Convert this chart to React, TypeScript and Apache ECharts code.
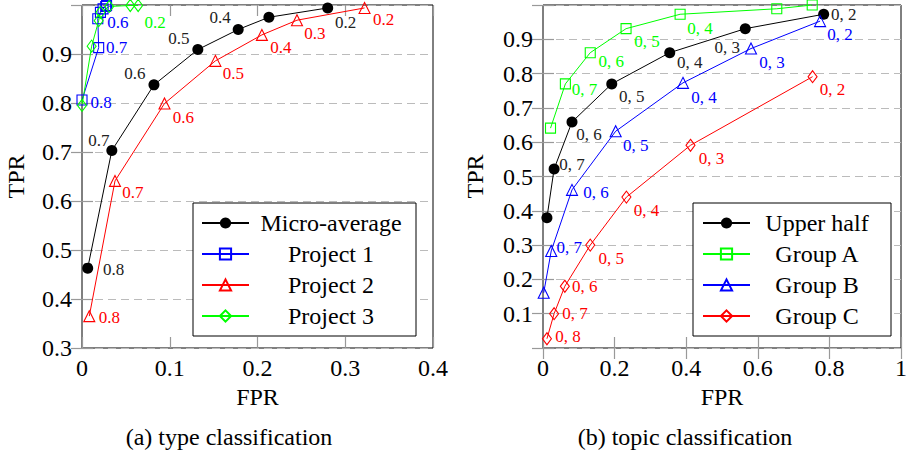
import React, { useEffect, useRef } from 'react';
import * as echarts from 'echarts';

// ---------- (a) type classification ----------
const microFpr = [0.0065, 0.034, 0.082, 0.132, 0.178, 0.213, 0.28];
const microTpr = [0.463, 0.703, 0.837, 0.909, 0.95, 0.975, 0.994];
const microLabels = ['0.8', '0.7', '0.6', '0.5', '0.4', '', '0.2'];

const p1Fpr = [0, 0.019, 0.018, 0.021, 0.024, 0.027, 0.028];
const p1Tpr = [0.806, 0.913, 0.972, 0.985, 0.992, 0.997, 0.999];
const p1Labels = ['0.8', '0.7', '0.6', '', '', '', ''];

const p2Fpr = [0.0083, 0.0376, 0.094, 0.152, 0.205, 0.245, 0.322];
const p2Tpr = [0.365, 0.641, 0.799, 0.886, 0.939, 0.969, 0.994];
const p2Labels = ['0.8', '0.7', '0.6', '0.5', '0.4', '0.3', '0.2'];

const p3Fpr = [0, 0.011, 0.019, 0.021, 0.031, 0.055, 0.064];
const p3Tpr = [0.795, 0.916, 0.968, 0.985, 0.997, 0.999, 0.999];
const p3Labels = ['', '', '', '', '', '', '0.2'];

const legendA = ['Micro-average', 'Project 1', 'Project 2', 'Project 3'];

// ---------- (b) topic classification ----------
const upperFpr = [0.011, 0.031, 0.081, 0.192, 0.354, 0.565, 0.784];
const upperTpr = [0.38, 0.522, 0.659, 0.77, 0.861, 0.931, 0.973];
const upperLabels = ['', '0, 7', '0, 6', '0, 5', '0, 4', '0, 3', '0, 2'];

const gaFpr = [0.021, 0.0625, 0.132, 0.232, 0.383, 0.653, 0.752];
const gaTpr = [0.641, 0.77, 0.861, 0.931, 0.973, 0.989, 1.0];
const gaLabels = ['', '0, 7', '0, 6', '0, 5', '0, 4', '', ''];

const gbFpr = [0.002, 0.023, 0.081, 0.203, 0.391, 0.581, 0.774];
const gbTpr = [0.161, 0.283, 0.461, 0.632, 0.773, 0.873, 0.953];
const gbLabels = ['', '0, 7', '0, 6', '0, 5', '0, 4', '0, 3', '0, 2'];

const gcFpr = [0.011, 0.031, 0.061, 0.132, 0.233, 0.412, 0.753];
const gcTpr = [0.027, 0.1, 0.18, 0.3, 0.44, 0.591, 0.791];
const gcLabels = ['0, 8', '0, 7', '0, 6', '0, 5', '0, 4', '0, 3', '0, 2'];

const legendB = ['Upper half', 'Group A', 'Group B', 'Group C'];

const captionA = '(a) type classification';
const captionB = '(b) topic classification';

// ---------- styling (label placement offsets, px) ----------
const microOff = [[26, 1], [-13, -10], [-19, -11], [-19, -11], [-18, -12], [0, 0], [18, 15]];
const p1Off = [[19, 2], [18, 0], [20, 4], [0, 0], [0, 0], [0, 0], [0, 0]];
const p2Off = [[20, 1], [18, 12], [19, 14], [18, 13], [19, 13], [18, 13], [19, 12]];
const p3Off = [[0, 0], [0, 0], [0, 0], [0, 0], [0, 0], [0, 0], [17, 17]];
const upperOff = [[0, 0], [18, -4], [17, 13], [20, 13], [20, 10], [-18, 19], [20, 0]];
const gaOff = [[0, 0], [19, 6], [21, 9], [21, 13], [20, 14], [0, 0], [0, 0]];
const gbOff = [[0, 0], [18, -3], [24, 3], [20, 14], [21, 15], [21, 14], [20, 13]];
const gcOff = [[21, -2], [21, 0], [20, 0], [21, 13], [20, 13], [21, 13], [20, 13]];

const FONT = "'Liberation Serif', 'Times New Roman', serif";
const BLACK = '#000000';
const BLUE = '#0000ff';
const RED = '#ff0000';
const GREEN = '#00ff00';

function buildData(xs: number[], ys: number[], labels: string[], offs: number[][], color: string) {
  return xs.map((x, i) => ({
    value: [x, ys[i]],
    label: {
      show: labels[i] !== '',
      formatter: labels[i],
      position: 'inside',
      offset: offs[i],
      color: color === BLACK ? '#222' : color,
      fontFamily: FONT,
      fontSize: 17,
    },
  }));
}

function makeSeries(
  name: string, xs: number[], ys: number[], labels: string[], offs: number[][],
  color: string, symbol: string, size: any, filled: boolean, axisIndex: number
) {
  return {
    name,
    type: 'line',
    xAxisIndex: axisIndex,
    yAxisIndex: axisIndex,
    clip: false,
    symbol,
    symbolSize: size,
    showAllSymbol: true,
    lineStyle: { color, width: 1 },
    itemStyle: filled
      ? { color, borderColor: color, borderWidth: 0 }
      : { color: 'rgba(255,255,255,0)', borderColor: color, borderWidth: 1.1 },
    emphasis: { disabled: true },
    data: buildData(xs, ys, labels, offs, color),
  };
}

function tickFmt(hideMin: boolean, hideMax: boolean, max: number, min: number) {
  return (v: number) => {
    if (hideMax && Math.abs(v - max) < 1e-6) return '';
    if (hideMin && Math.abs(v - min) < 1e-6) return '';
    return String(+v.toFixed(2));
  };
}

const tickStyle = { inside: true, length: 11, lineStyle: { color: '#999', width: 1.2 } };
const labelStyle = { fontFamily: FONT, fontSize: 24, color: '#000' };

function xAxes(grid: number, max: number, interval: number, nameGap: number) {
  return [
    {
      gridIndex: grid, type: 'value', min: 0, max, interval, position: 'bottom',
      name: 'FPR', nameLocation: 'middle', nameGap,
      nameTextStyle: { fontFamily: FONT, fontSize: 24, color: '#000' },
      axisLine: { show: false }, axisTick: tickStyle,
      axisLabel: { ...labelStyle, margin: 8, formatter: tickFmt(false, false, max, 0) },
      splitLine: { show: false },
    },
    {
      gridIndex: grid, type: 'value', min: 0, max, interval, position: 'top',
      axisLine: { show: false }, axisTick: tickStyle, axisLabel: { show: false },
      splitLine: { show: false },
    },
  ];
}

function yAxes(grid: number, min: number, hideMin: boolean, nameGap: number) {
  return [
    {
      gridIndex: grid, type: 'value', min, max: 1, interval: 0.1, position: 'left',
      name: 'TPR', nameLocation: 'middle', nameGap,
      nameTextStyle: { fontFamily: FONT, fontSize: 24, color: '#000' },
      axisLine: { show: false }, axisTick: tickStyle,
      axisLabel: { ...labelStyle, margin: 10, formatter: tickFmt(hideMin, true, 1, min) },
      splitLine: { show: true, lineStyle: { color: '#bbb', width: 1, type: [8, 5] } },
    },
    {
      gridIndex: grid, type: 'value', min, max: 1, interval: 0.1, position: 'right',
      axisLine: { show: false }, axisTick: tickStyle, axisLabel: { show: false },
      splitLine: { show: false },
    },
  ];
}

function legendOpt(data: string[], left: number, textW: number, padding: number[]) {
  return {
    data,
    left,
    top: 203,
    orient: 'vertical',
    itemWidth: 47,
    itemHeight: 14,
    itemGap: 7,
    padding,
    borderColor: '#000',
    borderWidth: 1,
    backgroundColor: '#fff',
    selectedMode: false,
    formatter: (n: string) => `{t|${n}}`,
    textStyle: {
      fontFamily: FONT,
      fontSize: 24,
      color: '#000',
      rich: { t: { width: textW, height: 24, lineHeight: 24, align: 'center', fontFamily: FONT, fontSize: 24, color: '#000' } },
    },
  };
}

export default function App() {
  const ref = useRef<HTMLDivElement>(null);
  useEffect(() => {
    document.body.style.margin = '0';
    if (!ref.current) return;
    const chart = echarts.init(ref.current, undefined, { renderer: 'svg' });
    const option: any = {
      animation: false,
      backgroundColor: '#fff',
      grid: [
        { left: 82, top: 5, width: 351, height: 343, show: true, borderColor: '#000', borderWidth: 1, backgroundColor: 'rgba(0,0,0,0)' },
        { left: 543, top: 5, width: 359, height: 343, show: true, borderColor: '#000', borderWidth: 1, backgroundColor: 'rgba(0,0,0,0)' },
      ],
      xAxis: [...xAxes(0, 0.4, 0.1, 36), ...xAxes(1, 1, 0.2, 36)],
      yAxis: [...yAxes(0, 0.3, false, 54), ...yAxes(1, 0, true, 56)],
      legend: [
        legendOpt(legendA, 193, 154, [8, 8, 8, 8]),
        legendOpt(legendB, 693, 124, [8, 12, 8, 9]),
      ],
      series: [
        makeSeries(legendA[0], microFpr, microTpr, microLabels, microOff, BLACK, 'circle', 11, true, 0),
        makeSeries(legendA[1], p1Fpr, p1Tpr, p1Labels, p1Off, BLUE, 'rect', 10, false, 0),
        makeSeries(legendA[2], p2Fpr, p2Tpr, p2Labels, p2Off, RED, 'triangle', 11, false, 0),
        makeSeries(legendA[3], p3Fpr, p3Tpr, p3Labels, p3Off, GREEN, 'diamond', [9, 12], false, 0),
        makeSeries(legendB[0], upperFpr, upperTpr, upperLabels, upperOff, BLACK, 'circle', 11, true, 2),
        makeSeries(legendB[1], gaFpr, gaTpr, gaLabels, gaOff, GREEN, 'rect', 10, false, 2),
        makeSeries(legendB[2], gbFpr, gbTpr, gbLabels, gbOff, BLUE, 'triangle', 11, false, 2),
        makeSeries(legendB[3], gcFpr, gcTpr, gcLabels, gcOff, RED, 'diamond', [9, 12], false, 2),
      ],
      graphic: [
        { type: 'text', x: 229, y: 437, style: { text: captionA, align: 'center', verticalAlign: 'middle', fontFamily: FONT, fontSize: 24, fill: '#000' } },
        { type: 'text', x: 685, y: 437, style: { text: captionB, align: 'center', verticalAlign: 'middle', fontFamily: FONT, fontSize: 24, fill: '#000' } },
      ],
    };
    chart.setOption(option);
    return () => chart.dispose();
  }, []);
  return <div ref={ref} style={{ width: 910, height: 453 }} />;
}
